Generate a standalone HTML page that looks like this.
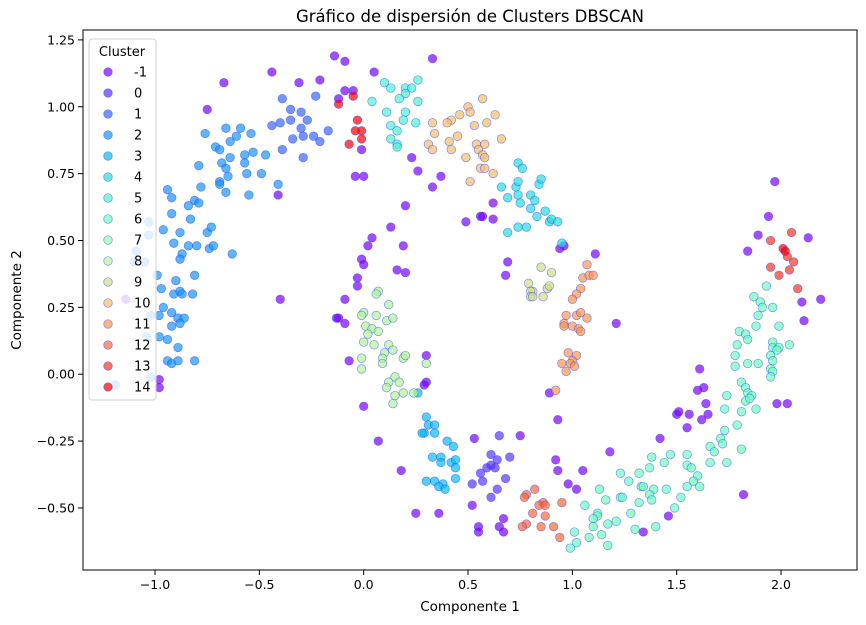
<!DOCTYPE html>
<html><head><meta charset="utf-8">
<style>
html,body{margin:0;padding:0;background:#fff;}
svg{display:block;font-family:"DejaVu Sans","Liberation Sans",sans-serif;}
</style></head>
<body>
<svg id="chart" width="866" height="625" viewBox="0 0 866 625" xmlns="http://www.w3.org/2000/svg">
<rect x="0" y="0" width="866" height="625" fill="#fff"/>
<text x="470" y="22" font-size="16.5" text-anchor="middle" fill="#000">Gráfico de dispersión de Clusters DBSCAN</text>
<g id="points"></g>
<rect x="83" y="30" width="774" height="540" fill="none" stroke="#000" stroke-width="1"/>
<g id="xticks"></g>
<g id="yticks"></g>
<text x="470" y="611" font-size="13.5" text-anchor="middle">Componente 1</text>
<text transform="translate(21,300) rotate(-90)" font-size="13.5" text-anchor="middle">Componente 2</text>
<g id="legend"></g>
</svg>
<script>
const clusterLabels = [-1,0,1,2,3,4,5,6,7,8,9,10,11,12,13,14];
const xTicks = [-1.0,-0.5,0.0,0.5,1.0,1.5,2.0];
const yTicks = [-0.5,-0.25,0,0.25,0.5,0.75,1.0,1.25];
const noisePts = [[-0.14,1.19],[-0.09,1.17],[0.05,1.13],[-0.44,1.13],[-0.67,1.09],[-0.31,1.09],[-0.21,1.10],[-0.09,1.06],[-0.05,1.06],[-0.12,1.03],[-0.75,0.99],[-0.01,0.84],[-0.04,0.74],[0.00,0.74],[-0.41,0.67],[0.33,1.18],[0.23,0.81],[0.26,0.76],[0.37,0.74],[0.33,0.70],[0.20,0.63],[0.62,0.64],[0.56,0.59],[0.57,0.59],[0.62,0.58],[0.49,0.57],[0.94,0.47],[0.96,0.48],[1.11,0.45],[0.69,0.42],[0.68,0.37],[1.21,0.19],[0.89,-0.07],[0.13,0.55],[0.04,0.51],[0.02,0.48],[0.19,0.48],[-0.01,0.43],[0.00,0.41],[0.16,0.39],[0.20,0.38],[-0.03,0.36],[-0.03,0.33],[-0.40,0.28],[-0.09,0.28],[-0.13,0.21],[-0.12,0.21],[-0.09,0.19],[-0.07,0.05],[0.30,0.07],[0.30,-0.03],[0.29,-0.04],[0.00,-0.12],[0.07,-0.25],[0.18,-0.36],[0.25,-0.52],[0.36,-0.52],[0.53,-0.24],[0.75,-0.23],[0.52,-0.49],[0.55,-0.57],[0.55,-0.59],[0.65,-0.57],[0.67,-0.59],[0.67,-0.54],[0.93,-0.17],[0.92,-0.32],[0.93,-0.36],[1.05,-0.36],[0.98,-0.41],[1.02,-0.43],[1.18,-0.29],[1.42,-0.24],[1.50,-0.15],[1.46,-0.53],[1.34,-0.59],[1.97,0.72],[1.94,0.59],[1.89,0.52],[2.13,0.51],[1.84,0.46],[2.10,0.27],[2.19,0.28],[2.11,0.20],[1.61,0.02],[1.60,-0.06],[1.63,-0.05],[1.64,-0.11],[1.51,-0.14],[1.56,-0.15],[1.62,-0.17],[1.65,-0.15],[1.55,-0.20],[1.98,-0.11],[2.03,-0.11],[1.82,-0.45],[-0.98,-0.05],[-0.98,-0.02],[-1.14,0.28]];
const c0Pts = [[0.65,-0.23],[0.61,-0.30],[0.64,-0.32],[0.70,-0.31],[0.59,-0.35],[0.61,-0.34],[0.63,-0.35],[0.56,-0.37],[0.68,-0.39],[0.52,-0.41],[0.57,-0.40],[0.64,-0.43],[0.61,-0.46]];
const c1Pts = [[-0.39,1.03],[-0.23,1.04],[-0.35,0.99],[-0.30,0.98],[-0.27,0.95],[-0.35,0.95],[-0.44,0.93],[-0.40,0.94],[-0.30,0.92],[-0.29,0.89],[-0.24,0.89],[-0.21,0.87],[-0.17,0.91],[-0.34,0.88],[-0.39,0.84],[-0.29,0.81]];
const c2Pts = [[-0.66,0.92],[-0.59,0.92],[-0.54,0.90],[-0.61,0.89],[-0.64,0.87],[-0.76,0.90],[-0.71,0.85],[-0.69,0.84],[-0.64,0.81],[-0.57,0.82],[-0.53,0.83],[-0.47,0.82],[-0.57,0.79],[-0.68,0.79],[-0.66,0.77],[-0.65,0.74],[-0.56,0.75],[-0.49,0.75],[-0.79,0.78],[-0.69,0.72],[-0.69,0.71],[-0.78,0.70],[-0.66,0.68],[-0.55,0.67],[-0.41,0.71],[-0.94,0.69],[-0.92,0.66],[-0.81,0.65],[-0.79,0.64],[-0.84,0.63],[-0.92,0.60],[-0.83,0.58],[-0.96,0.54],[-0.88,0.53],[-0.91,0.49],[-0.84,0.48],[-0.80,0.48],[-0.75,0.53],[-0.73,0.55],[-0.74,0.47],[-0.72,0.48],[-0.87,0.45],[-0.88,0.43],[-0.63,0.45],[-0.99,0.37],[-0.90,0.35],[-0.81,0.37],[-0.97,0.32],[-0.91,0.30],[-0.88,0.31],[-0.87,0.30],[-0.82,0.30],[-0.96,0.25],[-0.98,0.22],[-0.92,0.23],[-0.89,0.21],[-0.86,0.21],[-0.88,0.19],[-0.92,0.18],[-0.98,0.14],[-0.94,0.13],[-0.89,0.10],[-0.94,0.05],[-0.92,0.04],[-0.89,0.05],[-0.81,0.05],[-1.03,0.57],[-1.03,0.52],[-1.09,0.46],[-1.10,0.42],[-1.05,0.42],[-1.02,0.22],[-1.04,0.14],[-1.02,-0.01],[-1.19,-0.04]];
const c3Pts = [[0.26,-0.07],[0.30,-0.16],[0.31,-0.19],[0.34,-0.19],[0.29,-0.22],[0.28,-0.22],[0.34,-0.22],[0.40,-0.25],[0.43,-0.27],[0.33,-0.31],[0.37,-0.31],[0.37,-0.33],[0.42,-0.33],[0.44,-0.32],[0.44,-0.35],[0.44,-0.39],[0.30,-0.40],[0.34,-0.40],[0.38,-0.41],[0.36,-0.42],[0.39,-0.43]];
const c4Pts = [[0.74,0.79],[0.76,0.77],[0.66,0.70],[0.69,0.66],[0.73,0.70],[0.74,0.72],[0.74,0.67],[0.75,0.64],[0.80,0.67],[0.82,0.65],[0.80,0.62],[0.84,0.71],[0.85,0.73],[0.83,0.59],[0.87,0.61],[0.89,0.57],[0.90,0.58],[0.93,0.57],[0.74,0.55],[0.78,0.55],[0.69,0.53],[0.95,0.49]];
const c5Pts = [[0.10,1.09],[0.13,1.07],[0.20,1.07],[0.23,1.07],[0.20,1.05],[0.26,1.10],[0.17,1.03],[0.26,1.02],[0.04,1.02],[0.11,0.98],[0.20,0.98],[0.19,0.95],[0.25,0.94],[0.13,0.93],[0.16,0.91],[0.13,0.88],[0.16,0.86],[0.16,0.85]];
const c6Pts = [[1.01,-0.59],[1.02,-0.63],[0.99,-0.65],[1.06,-0.49],[1.12,-0.52],[1.12,-0.53],[1.10,-0.54],[1.10,-0.57],[1.08,-0.61],[1.14,-0.60],[1.17,-0.56],[1.21,-0.55],[1.17,-0.64],[1.13,-0.43],[1.16,-0.47],[1.23,-0.46],[1.24,-0.46],[1.23,-0.37],[1.27,-0.40],[1.32,-0.37],[1.37,-0.35],[1.38,-0.31],[1.44,-0.33],[1.47,-0.30],[1.33,-0.42],[1.34,-0.42],[1.39,-0.43],[1.37,-0.45],[1.38,-0.47],[1.45,-0.43],[1.32,-0.48],[1.28,-0.52],[1.30,-0.58],[1.40,-0.57],[1.49,-0.50],[1.93,0.33],[1.87,0.29],[1.90,0.27],[1.91,0.25],[1.96,0.25],[1.89,0.22],[1.88,0.18],[1.99,0.18],[1.80,0.16],[1.83,0.15],[1.84,0.13],[1.79,0.11],[1.78,0.07],[1.78,0.03],[1.84,0.04],[1.89,0.04],[1.96,0.12],[1.96,0.10],[1.99,0.10],[1.98,0.09],[1.95,0.07],[1.96,0.05],[1.95,0.02],[1.96,0.01],[1.95,-0.01],[2.04,0.11],[1.81,-0.03],[1.83,-0.05],[1.84,-0.07],[1.86,-0.08],[1.83,-0.10],[1.85,-0.09],[1.74,-0.08],[1.73,-0.13],[1.81,-0.14],[1.88,-0.13],[1.79,-0.19],[1.73,-0.21],[1.71,-0.24],[1.72,-0.26],[1.66,-0.27],[1.68,-0.29],[1.81,-0.28],[1.66,-0.33],[1.74,-0.33],[1.55,-0.30],[1.55,-0.34],[1.57,-0.35],[1.60,-0.38],[1.58,-0.40],[1.61,-0.42],[1.55,-0.42],[1.52,-0.46]];
const c8Pts = [[0.07,0.31],[0.06,0.30],[0.12,0.26],[0.00,0.23],[-0.01,0.22],[0.06,0.22],[0.11,0.20],[0.14,0.21],[0.01,0.18],[0.04,0.17],[0.07,0.16],[0.02,0.15],[0.00,0.12],[0.05,0.11],[0.12,0.11],[0.14,0.09],[0.10,0.08],[0.09,0.06],[0.09,0.04],[-0.01,0.06],[-0.01,0.02],[0.19,0.06],[0.20,0.07],[0.30,0.04],[0.15,-0.01],[0.17,-0.03],[0.12,-0.03],[0.11,-0.05],[0.15,-0.08],[0.19,-0.07],[0.24,-0.07],[0.14,-0.11]];
const c9Pts = [[0.85,0.40],[0.90,0.38],[0.79,0.34],[0.81,0.31],[0.80,0.31],[0.88,0.32],[0.89,0.33],[0.86,0.29],[0.80,0.29],[0.81,0.29]];
const c10Pts = [[0.57,1.03],[0.50,1.00],[0.51,0.98],[0.46,0.97],[0.63,0.97],[0.42,0.95],[0.40,0.94],[0.33,0.94],[0.59,0.94],[0.53,0.93],[0.45,0.89],[0.34,0.90],[0.41,0.87],[0.31,0.86],[0.33,0.84],[0.42,0.84],[0.66,0.88],[0.54,0.86],[0.58,0.86],[0.55,0.84],[0.57,0.82],[0.58,0.81],[0.49,0.81],[0.56,0.77],[0.58,0.77],[0.62,0.75],[0.51,0.72]];
const c11Pts = [[1.07,0.41],[1.05,0.36],[1.08,0.37],[1.10,0.37],[1.04,0.32],[1.02,0.30],[1.00,0.28],[0.97,0.22],[1.02,0.22],[1.04,0.23],[1.07,0.21],[0.96,0.19],[0.96,0.18],[1.00,0.18],[1.03,0.17],[1.04,0.16],[0.98,0.08],[1.02,0.07],[1.00,0.05],[0.95,0.04],[0.99,0.04],[1.01,0.03],[0.97,0.01],[0.92,-0.06]];
const c12Pts = [[0.82,-0.43],[0.78,-0.45],[0.77,-0.46],[0.86,-0.48],[0.84,-0.49],[0.87,-0.49],[0.95,-0.48],[0.81,-0.52],[0.87,-0.53],[0.78,-0.56],[0.76,-0.57],[0.85,-0.57],[0.91,-0.57],[0.94,-0.61]];
const c13Pts = [[2.05,0.53],[1.95,0.50],[2.06,0.42],[1.95,0.40],[1.99,0.37],[2.04,0.39],[2.08,0.32],[2.03,0.44]];
const c14Pts = [[-0.05,1.04],[-0.12,1.01],[-0.03,0.95],[-0.04,0.91],[-0.01,0.91],[-0.01,0.88],[-0.07,0.86],[2.01,0.47],[2.02,0.46]];

const X0=83,X1=857,Y0=30,Y1=570,XMIN=-1.345,XMAX=2.364,YMIN=-0.732,YMAX=1.287;
function sx(v){return X0+(v-XMIN)/(XMAX-XMIN)*(X1-X0);}
function sy(v){return Y1-(v-YMIN)/(YMAX-YMIN)*(Y1-Y0);}
function rainbow(t){
  const r=Math.min(1,Math.abs(2*t-0.5)), g=Math.sin(Math.PI*t), b=Math.cos(Math.PI*t/2);
  const h=v=>Math.round(Math.max(0,Math.min(1,v))*255);
  return 'rgb('+h(r)+','+h(g)+','+h(b)+')';
}
function colorFor(label){return rainbow((label+1)/15);}
const NS='http://www.w3.org/2000/svg';
const pointsLayer=document.getElementById('points');
const groups=[[-1,noisePts],[0,c0Pts],[1,c1Pts],[2,c2Pts],[3,c3Pts],[4,c4Pts],[5,c5Pts],[6,c6Pts],[8,c8Pts],[9,c9Pts],[10,c10Pts],[11,c11Pts],[12,c12Pts],[13,c13Pts],[14,c14Pts]];
groups.forEach(([lab,pts])=>{
  pts.forEach(p=>{
    const c=document.createElementNS(NS,'circle');
    c.setAttribute('cx',sx(p[0]).toFixed(1));
    c.setAttribute('cy',sy(p[1]).toFixed(1));
    c.setAttribute('r','4.3');
    c.setAttribute('fill',colorFor(lab));
    c.setAttribute('fill-opacity','0.7');
    c.setAttribute('stroke','#2040ff');
    c.setAttribute('stroke-opacity','0.55');
    c.setAttribute('stroke-width','0.7');
    
    
    pointsLayer.appendChild(c);
  });
});
function fmt(v,d){const s=Math.abs(v).toFixed(d);return (v<0?'\u2212':'')+s;}
const xg=document.getElementById('xticks');
xTicks.forEach(v=>{
  const x=sx(v);
  const l=document.createElementNS(NS,'line');
  l.setAttribute('x1',x);l.setAttribute('x2',x);l.setAttribute('y1',Y1);l.setAttribute('y2',Y1+5);
  l.setAttribute('stroke','#000');
  
  
  xg.appendChild(l);
  const t=document.createElementNS(NS,'text');
  t.setAttribute('x',x);t.setAttribute('y',Y1+19);t.setAttribute('font-size','12.5');t.setAttribute('text-anchor','middle');
  t.textContent=fmt(v,1);
  
  
  xg.appendChild(t);
});
const yg=document.getElementById('yticks');
yTicks.forEach(v=>{
  const y=sy(v);
  const l=document.createElementNS(NS,'line');
  l.setAttribute('x1',X0-5);l.setAttribute('x2',X0);l.setAttribute('y1',y);l.setAttribute('y2',y);
  l.setAttribute('stroke','#000');
  
  
  yg.appendChild(l);
  const t=document.createElementNS(NS,'text');
  t.setAttribute('x',X0-8);t.setAttribute('y',y+4.5);t.setAttribute('font-size','12.5');t.setAttribute('text-anchor','end');
  t.textContent=fmt(v,2);
  
  
  yg.appendChild(t);
});
const lg=document.getElementById('legend');
const box=document.createElementNS(NS,'rect');
box.setAttribute('x','89');box.setAttribute('y','39');box.setAttribute('width','67');box.setAttribute('height','361');
box.setAttribute('rx','3');box.setAttribute('fill','#fff');box.setAttribute('fill-opacity','0.8');box.setAttribute('stroke','#d0d0d0');


lg.appendChild(box);
const lt=document.createElementNS(NS,'text');
lt.setAttribute('x','122');lt.setAttribute('y','56');lt.setAttribute('font-size','13');lt.setAttribute('text-anchor','middle');
lt.textContent='Cluster';


lg.appendChild(lt);
clusterLabels.forEach((lab,i)=>{
  const y=72+21*i;
  const c=document.createElementNS(NS,'circle');
  c.setAttribute('cx','108');c.setAttribute('cy',y);c.setAttribute('r','4.3');
  c.setAttribute('fill',colorFor(lab));c.setAttribute('fill-opacity','0.7');
  c.setAttribute('stroke','#2040ff');c.setAttribute('stroke-opacity','0.55');c.setAttribute('stroke-width','0.7');
  
  
  lg.appendChild(c);
  const t=document.createElementNS(NS,'text');
  t.setAttribute('x','134');t.setAttribute('y',y+4.5);t.setAttribute('font-size','13');
  t.textContent=String(lab);
  
  
  lg.appendChild(t);
});
</script>
</body></html>
